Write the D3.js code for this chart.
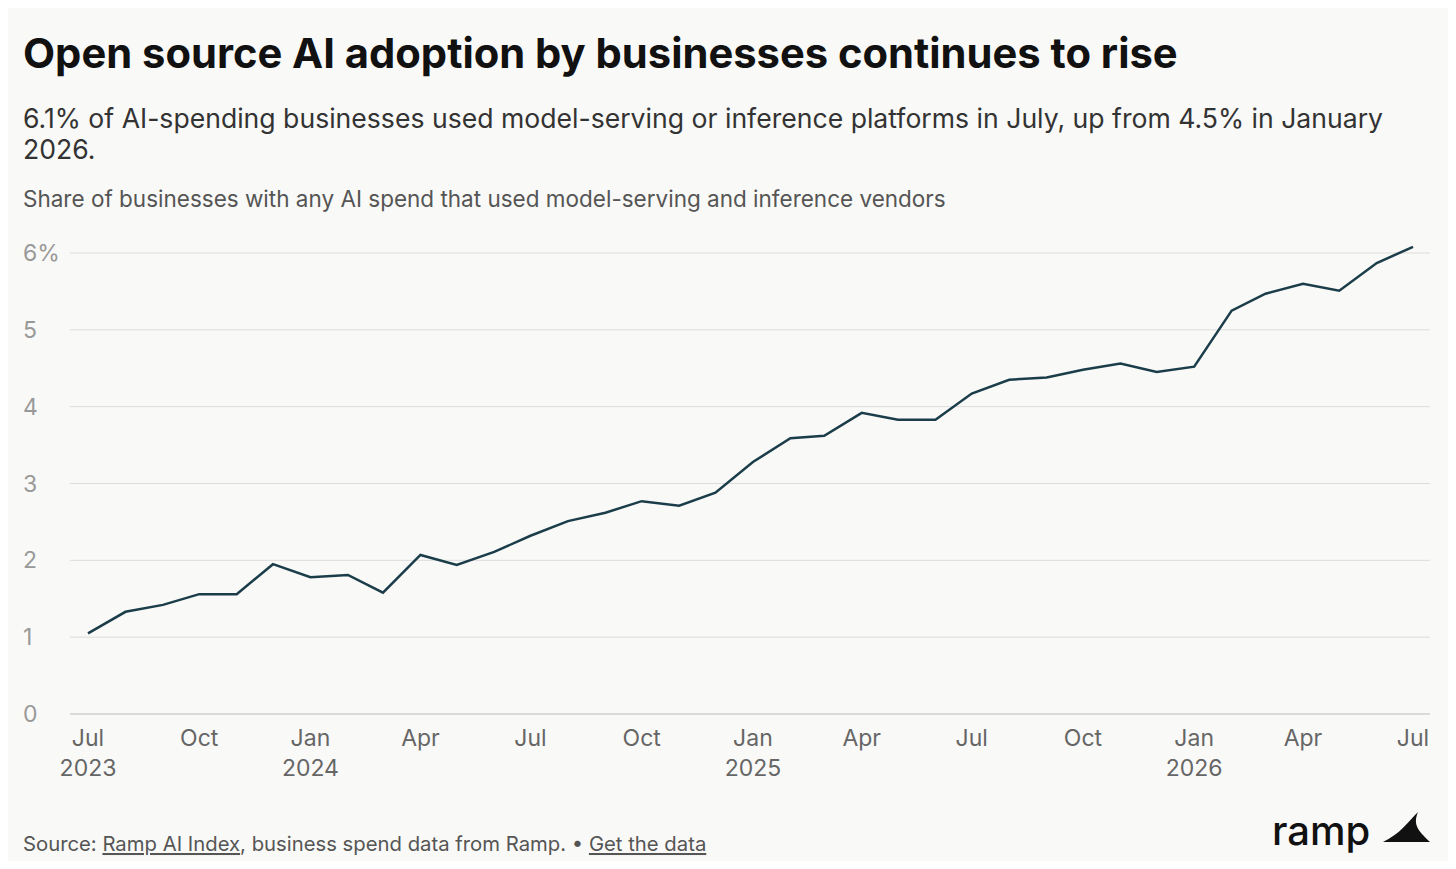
<!DOCTYPE html>
<html>
<head>
<meta charset="utf-8">
<script src="https://cdn.jsdelivr.net/npm/d3@7"></script>
<style>
  body { margin: 0; background: #fff; font-family: Inter, "Noto Sans", sans-serif; }
  #chart { width: 1456px; height: 869px; }
</style>
</head>
<body>
<div id="chart"></div>
<script>
// monthly values, Jul 2023 .. Jul 2026
const months = d3.range(37).map(i => new Date(2023, 6 + i, 1))
const shares = [1.05, 1.33, 1.42, 1.56, 1.56, 1.95, 1.78, 1.81, 1.58, 2.07, 1.94, 2.11,
  2.32, 2.51, 2.62, 2.77, 2.71, 2.88, 3.28, 3.59, 3.62, 3.92, 3.83, 3.83,
  4.17, 4.35, 4.38, 4.48, 4.56, 4.45, 4.52, 5.25, 5.47, 5.60, 5.51, 5.87, 6.08]
const yTicks = [0, 1, 2, 3, 4, 5, 6]
const xTicks = d3.range(0, 37, 3).map(i => months[i])

const W = 1456, H = 869
const svg = d3.select("#chart").append("svg").attr("width", W).attr("height", H)
svg.append("rect").attr("x", 8).attr("y", 8).attr("width", W - 16).attr("height", H - 16).attr("fill", "#f9f9f7")

const x = d3.scaleTime().domain([months[0], months[36]]).range([88, 1413])
const y = d3.scaleLinear().domain([0, 6]).range([714, 253])

svg.append("text").attr("x", 23).attr("y", 68).attr("font-size", 41.7).attr("font-weight", 700)
  .attr("fill", "#111").text("Open source AI adoption by businesses continues to rise")
svg.append("text").attr("x", 23).attr("y", 128).attr("font-size", 26.6).attr("fill", "#333")
  .text("6.1% of AI-spending businesses used model-serving or inference platforms in July, up from 4.5% in January")
svg.append("text").attr("x", 23).attr("y", 159).attr("font-size", 26.6).attr("fill", "#333").text("2026.")
svg.append("text").attr("x", 23).attr("y", 207).attr("font-size", 22.5).attr("fill", "#555")
  .text("Share of businesses with any AI spend that used model-serving and inference vendors")

// gridlines + y labels
const yg = svg.append("g")
yg.selectAll("line").data(yTicks).join("line")
  .attr("x1", 70).attr("x2", 1430).attr("y1", d => y(d)).attr("y2", d => y(d))
  .attr("stroke", d => d === 0 ? "#bbb" : "#ddd")
yg.selectAll("text").data(yTicks).join("text")
  .attr("x", 23).attr("y", d => y(d) + 8).attr("font-size", 23).attr("fill", "#999")
  .text(d => d === 6 ? "6%" : d)

// x labels
const xg = svg.append("g")
xg.selectAll("text.m").data(xTicks).join("text").attr("class", "m")
  .attr("x", d => x(d)).attr("y", 746).attr("text-anchor", "middle").attr("font-size", 23).attr("fill", "#666")
  .text(d => d3.timeFormat("%b")(d))
xg.selectAll("text.yr").data(xTicks.filter(d => d.getMonth() === 0 || +d === +months[0])).join("text").attr("class", "yr")
  .attr("x", d => x(d)).attr("y", 776).attr("text-anchor", "middle").attr("font-size", 23).attr("fill", "#666")
  .text(d => d.getFullYear())

svg.append("path").datum(shares)
  .attr("d", d3.line().x((d, i) => x(months[i])).y(d => y(d)))
  .attr("fill", "none").attr("stroke", "#1b3d4a").attr("stroke-width", 2.5)

// footer
const ft = svg.append("text").attr("x", 23).attr("y", 851).attr("font-size", 20.3).attr("fill", "#555")
ft.append("tspan").text("Source: ")
ft.append("tspan").attr("text-decoration", "underline").text("Ramp AI Index")
ft.append("tspan").text(", business spend data from Ramp. \u2022 ")
ft.append("tspan").attr("text-decoration", "underline").text("Get the data")

svg.append("text").attr("x", 1272).attr("y", 845).attr("font-size", 40).attr("font-weight", 500)
  .attr("fill", "#111").text("ramp")
svg.append("path").attr("d", "M1383,842 L1430,842 C1420,832 1412,826 1418,812 C1408,822 1400,834 1383,842 Z")
  .attr("fill", "#111")
</script>
</body>
</html>
